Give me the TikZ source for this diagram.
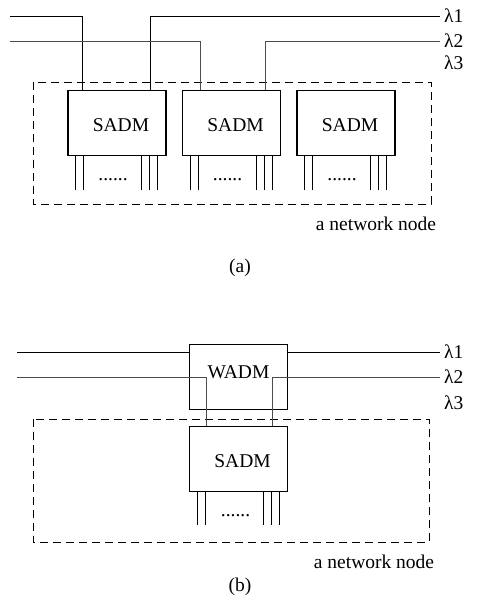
\documentclass[tikz,border=0pt]{standalone}
\usepackage{fontspec}
\setmainfont{Liberation Serif}
\tikzset{
  adm/.style={draw, line width=1.1pt, minimum width=98pt, minimum height=65pt, inner sep=0pt},
  sadm/.style={adm, label={[xshift=4pt, yshift=-2pt]center:SADM}},
  wadm/.style={adm, label={[yshift=5pt]center:WADM}},
  lam/.style={anchor=west, inner xsep=4pt, inner ysep=1pt},
  fibre/.style={line width=0.8pt},
  fibretwo/.style={line width=0.6pt, black!70},
  trib/.style={line width=0.8pt},
  netnode/.style={dash pattern=on 8pt off 5pt, line width=0.9pt}
}
\begin{document}
\begin{tikzpicture}[x=1pt, y=-1pt, font=\fontsize{19.5}{23}\selectfont]
\useasboundingbox (0,0) rectangle (480,599);
% (a)
\draw[netnode] (33,82) rectangle (431,204);
\node[sadm] (s1) at (117,123) {};
\node[sadm] (s2) at (231.5,123) {};
\node[sadm] (s3) at (346,123) {};
\node[lam] (l1) at (440,16) {λ1};
\node[lam] (l2) at (440,41) {λ2};
\node[lam] (l3) at (440,63) {λ3};
\coordinate (a1) at (10,16);
\coordinate (a2) at (10,41);
\draw[fibre] (a1) -| ([xshift=15pt]s1.north west);
\draw[fibre] ([xshift=-16pt]s1.north east) |- (l1.west);
\draw[fibretwo] (a2) -| ([xshift=18pt]s2.north west);
\draw[fibretwo] ([xshift=-16pt]s2.north east) |- (l2.west);
\foreach \b in {s1,s2,s3} {
  \foreach \d in {8,16}
    \draw[trib] ([xshift=\d pt]\b.south west) -- ++(0,34);
  \foreach \d in {9,17,25}
    \draw[trib] ([xshift=-\d pt]\b.south east) -- ++(0,34);
  \node (\b dots) at ([xshift=-4pt, yshift=-24pt]\b.south) {......};
}
\node (neta) at (376,224) {a network node};
\node (capa) at (240,268) {(a)};
% (b)
\draw[netnode] (33,419) rectangle (429,542);
\node[wadm] (w) at (238.5,377) {};
\node[sadm] (sb) at (238.5,459) {};
\node[lam] (m1) at (440,352) {λ1};
\node[lam] (m2) at (440,377) {λ2};
\node[lam] (m3) at (440,403) {λ3};
\coordinate (b1) at (17,352);
\coordinate (b2) at (17,377);
\draw[fibre] (b1) -- (b1 -| w.west);
\draw[fibre] (m1.west -| w.east) -- (m1.west);
\draw[fibretwo] (b2) -| ([xshift=17pt]sb.north west);
\draw[fibretwo] ([xshift=-16pt]sb.north east) |- (m2.west);
\foreach \d in {8,16}
  \draw[trib] ([xshift=\d pt]sb.south west) -- ++(0,33);
\foreach \d in {9,17,25}
  \draw[trib] ([xshift=-\d pt]sb.south east) -- ++(0,33);
\node (sbdots) at ([xshift=-3pt, yshift=-24pt]sb.south) {......};
\node (netb) at (374,562) {a network node};
\node (capb) at (240,587) {(b)};
\end{tikzpicture}
\end{document}
